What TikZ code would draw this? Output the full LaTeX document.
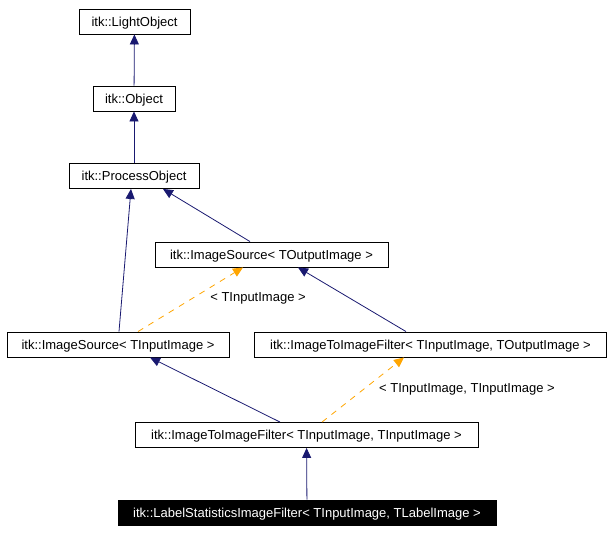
\documentclass[tikz,border=0pt]{standalone}
\usepackage{fontspec}
\setmainfont{Liberation Sans}
\usetikzlibrary{arrows.meta}
\definecolor{edgeblue}{HTML}{191970}
\definecolor{tmplorange}{HTML}{FFA500}
\tikzset{
  cls/.style={draw=black, line width=0.9pt, minimum height=25pt, inner sep=0pt, text height=12pt, text depth=2.5pt, font=\fontsize{13}{15}\selectfont},
  inh/.style={draw=edgeblue, line width=0.8pt, -{Triangle[length=10pt,width=9pt]}},
  tmpl/.style={draw=tmplorange, line width=0.8pt, dash pattern=on 6pt off 6pt, -{Triangle[length=10pt,width=9pt]}},
  tlabel/.style={font=\fontsize{13}{15}\selectfont, inner sep=0pt}
}
\begin{document}
\begin{tikzpicture}[x=1pt, y=-1pt]
			\useasboundingbox (0,0) rectangle (612,532);
			% classes
			\node[cls, minimum width=111pt] (light) at (134.5,21.5) {itk::LightObject};
			\node[cls, minimum width=82pt] (obj) at (134,98.5) {itk::Object};
			\node[cls, minimum width=130pt] (proc) at (134,176) {itk::ProcessObject};
			\node[cls, minimum width=233pt] (srcout) at (271.5,254.5) {itk::ImageSource< TOutputImage >};
			\node[cls, minimum width=222pt] (srcin) at (118,344.5) {itk::ImageSource< TInputImage >};
			\node[cls, minimum width=352pt] (filtout) at (430.5,344.5) {itk::ImageToImageFilter< TInputImage, TOutputImage >};
			\node[cls, minimum width=343pt] (filtin) at (306.5,435) {itk::ImageToImageFilter< TInputImage, TInputImage >};
			\node[cls, fill=black, text=white, minimum width=378pt] (lsif) at (307,512.5) {itk::LabelStatisticsImageFilter< TInputImage, TLabelImage >};
			% inheritance
			\draw[inh] (obj) -- (light);
			\draw[inh] (proc) -- (obj);
			\draw[inh] ([xshift=1pt]srcin.north) -- ([xshift=-3pt]proc.south);
			\draw[inh] ([xshift=-21.5pt]srcout.north) -- ([xshift=29pt]proc.south);
			\draw[inh] ([xshift=-24.5pt]filtout.north) -- ([xshift=26.5pt]srcout.south);
			\draw[inh] ([xshift=-26.5pt]filtin.north) -- ([xshift=32pt]srcin.south);
			\draw[inh] (lsif) -- (filtin);
			% template instances
			\draw[tmpl] ([xshift=20pt]srcin.north) -- ([xshift=-28.5pt]srcout.south);
			\draw[tmpl] ([xshift=15.5pt]filtin.north) -- ([xshift=-26.5pt]filtout.south);
			\node[tlabel] (lblin) at (258,298) {< TInputImage >};
			\node[tlabel] (lblinin) at (467,389) {< TInputImage, TInputImage >};
		\end{tikzpicture}
\end{document}
